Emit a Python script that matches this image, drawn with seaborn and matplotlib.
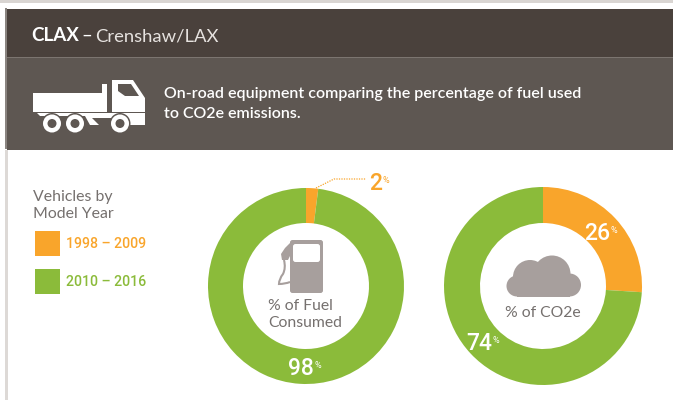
import matplotlib
matplotlib.use("Agg")
import matplotlib.pyplot as plt
from matplotlib.patches import Rectangle, Circle, Polygon, FancyBboxPatch, PathPatch
from matplotlib.path import Path
import seaborn as sns

title_code = "CLAX"
title_name = "Crenshaw/LAX"
subtitle_lines = ["On-road equipment comparing the percentage of fuel used", "to CO2e emissions."]
legend_title = ["Vehicles by", "Model Year"]
model_years = ["1998 – 2009", "2010 – 2016"]
fuel_pct = [2, 98]
co2_pct = [26, 74]

sns.set_theme(style="white")
plt.rcParams['font.family'] = ['Lato', 'DejaVu Sans']
DIGITS = ['Roboto', 'Lato', 'DejaVu Sans']

W, H = 673, 400
ORANGE, GREEN = sns.color_palette(["#F9A52B", "#8BBB3A"])
DARK, MID, ICON, TXT = "#4A413C", "#5E5752", "#A79F9D", "#75706E"

fig = plt.figure(figsize=(W/100, H/100), dpi=100, facecolor="white")

def pixel_axes(z):
    a = fig.add_axes([0, 0, 1, 1], zorder=z)
    a.set_xlim(0, W); a.set_ylim(H, 0); a.axis("off")
    a.patch.set_alpha(0)
    return a

bg = pixel_axes(0)
bg.add_patch(Rectangle((0, 0), W, 2.5, color="#D9D5D2", lw=0))
bg.add_patch(Rectangle((5, 150), 3, 250, color="#DDD9D6", lw=0))
bg.add_patch(Rectangle((5, 8), 2, 141, color="#8A8480", lw=0))
bg.add_patch(Rectangle((7, 9), W-7, 48.5, color=DARK, lw=0))
bg.add_patch(Rectangle((7, 57.5), W-7, 92, color=MID, lw=0))
bg.add_patch(Rectangle((7, 57), W-7, 1.2, color="#7C7570", lw=0))

def donut(values, cx, cy, r, inner):
    ax = fig.add_axes([(cx-r)/W, 1-(cy+r)/H, 2*r/W, 2*r/H], zorder=1)
    ax.pie(values, colors=[ORANGE, GREEN], startangle=90, counterclock=False,
           radius=1, wedgeprops=dict(width=1-inner/r, linewidth=0))
    ax.set_xlim(-1, 1); ax.set_ylim(-1, 1)
    return ax

donut(fuel_pct, 306, 286, 98, 63)
donut(co2_pct, 543, 286, 99, 63)

ov = pixel_axes(2)

# header text
ov.text(31, 41, title_code, color="white", fontsize=13.5, fontweight="bold", va="baseline")
ov.text(81, 41, "–", color="white", fontsize=13.5, va="baseline")
ov.text(95, 41, title_name, color="#E6E2DF", fontsize=13.3, va="baseline", ha="left")
for line, y in zip(subtitle_lines, (98, 118)):
    ov.text(164, y, line, color="white", fontsize=11.55, fontweight="semibold", va="baseline")

# truck icon
ov.add_patch(Rectangle((33, 93), 70, 19, color="white", lw=0))
ov.add_patch(Rectangle((102, 84), 5, 28, color="white", lw=0))
ov.add_patch(Polygon([(112, 80), (133, 80), (145, 98), (145, 112), (112, 112)], color="white", lw=0))
ov.add_patch(Polygon([(118, 84), (131, 84), (139, 96), (125, 96), (118, 91)], color=MID, lw=0))
ov.add_patch(Polygon([(37, 113), (145, 113), (145, 125), (126, 125), (114, 118), (92, 118), (99, 125), (90, 125), (85, 116), (40, 116)], color="white", lw=0))
for wx in (52, 75, 120):
    ov.add_patch(Circle((wx, 123.5), 10.5, color=MID, lw=0))
    ov.add_patch(Circle((wx, 123.5), 9, color="white", lw=0))
    ov.add_patch(Circle((wx, 123.5), 4.5, color=MID, lw=0))

# legend
for line, y in zip(legend_title, (201, 218)):
    ov.text(33, y, line, color=TXT, fontsize=11.4, va="baseline")
for label, col, y in zip(model_years, (ORANGE, GREEN), (231, 269)):
    ov.add_patch(Rectangle((35, y), 25, 25, color=col, lw=0))
    ov.text(66, y+13.5, label, color=col, fontsize=10.2, va="center", family=DIGITS, fontweight="medium")

# value labels
def value(x, y, v, col, size=16.5):
    ov.text(x, y, str(v), color=col, fontsize=size, va="baseline", ha="right", family=DIGITS, fontweight="medium")
    ov.text(x+0.3, y-7, "%", color=col, fontsize=6.5, va="baseline", ha="left", family=DIGITS)

value(382, 190, fuel_pct[0], ORANGE)
value(314, 375, fuel_pct[1], "white")
value(610, 240, co2_pct[0], "white")
value(492, 350, co2_pct[1], "white")
ov.plot([316, 334, 366], [188, 179, 179], color=ORANGE, lw=0.9, ls=(0, (1, 1)))

# pump icon
ov.add_patch(FancyBboxPatch((290, 240), 33, 53, boxstyle="round,pad=0,rounding_size=2.5", color=ICON, lw=0))
ov.add_patch(FancyBboxPatch((293, 244), 27, 18, boxstyle="round,pad=0,rounding_size=2.5", color="white", lw=0))
ov.add_patch(Polygon([(285, 248), (290, 243), (290, 256), (288, 260), (282, 260), (281, 254)], color=ICON, lw=0))
hose = Path([(284, 260), (286, 268), (283, 274), (279, 279), (279, 284), (285, 284), (290, 282)],
            [Path.MOVETO, Path.CURVE3, Path.CURVE3, Path.CURVE3, Path.CURVE3, Path.CURVE3, Path.LINETO])
ov.add_patch(PathPatch(hose, fc="none", ec=ICON, lw=1.5))
for line, y in zip(["% of Fuel", "Consumed"], (310, 327)):
    ov.text(268, y, line, color=TXT, fontsize=11.3, va="baseline")

# cloud icon
for c, r in [((552, 274), 18.5), ((530, 277), 17), ((517, 286), 10.5), ((569.5, 285), 11.5)]:
    ov.add_patch(Circle(c, r, color=ICON, lw=0))
ov.add_patch(Rectangle((517, 278), 53, 18.5, color=ICON, lw=0))
ov.text(505, 317, "% of CO2e", color=TXT, fontsize=11.3, va="baseline")

fig.savefig("out.png", dpi=100, facecolor="white")
